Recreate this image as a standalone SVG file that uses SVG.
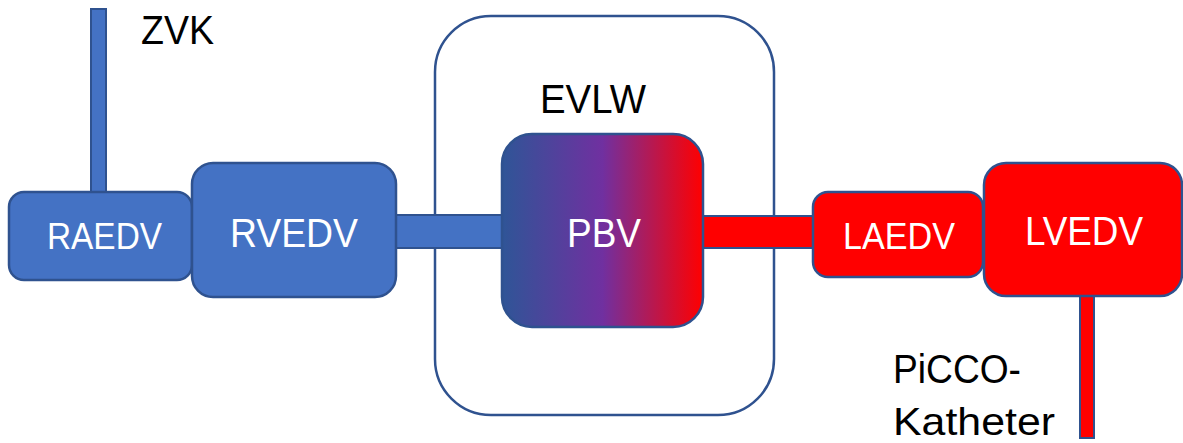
<svg xmlns="http://www.w3.org/2000/svg" width="1183" height="443" viewBox="0 0 1183 443">
  <style>
    .edge { stroke: #2F528F; stroke-width: 2; }
    .blue { fill: #4472C4; }
    .red { fill: #FF0000; }
    .box { stroke: #2F528F; stroke-width: 2.5; }
    .lbl { font-family: "Liberation Sans", Arial, sans-serif; }
    .in { fill: #FFFFFF; }
    .out { fill: #000000; }
  </style>
  <defs>
    <linearGradient id="mix" x1="0" y1="0" x2="1" y2="0">
      <stop offset="0" stop-color="#2F5597"/>
      <stop offset="0.5" stop-color="#7030A0"/>
      <stop offset="1" stop-color="#FF0000"/>
    </linearGradient>
  </defs>

  <!-- lung compartment -->
  <g id="evlw">
    <rect x="435" y="16" width="339" height="399" rx="56" fill="#FFFFFF" stroke="#2F528F" stroke-width="2.5"/>
    <text class="lbl out" x="540" y="113" font-size="40" textLength="106" lengthAdjust="spacingAndGlyphs">EVLW</text>
  </g>

  <!-- vessels and catheters -->
  <g id="connectors">
    <rect class="edge blue" x="91" y="9" width="15" height="184"/>
    <rect class="edge blue" x="390" y="215" width="116" height="33"/>
    <rect class="edge red" x="700" y="216" width="116" height="32"/>
    <rect class="edge red" x="1080" y="292" width="14" height="146"/>
  </g>

  <g id="raedv">
    <rect class="box blue" x="9" y="192" width="183" height="88" rx="15"/>
    <text class="lbl in" x="47" y="249" font-size="37" textLength="115" lengthAdjust="spacingAndGlyphs">RAEDV</text>
  </g>

  <g id="rvedv">
    <rect class="box blue" x="192" y="163" width="204" height="134" rx="21"/>
    <text class="lbl in" x="230" y="247" font-size="41" textLength="128" lengthAdjust="spacingAndGlyphs">RVEDV</text>
  </g>

  <g id="pbv">
    <rect x="502" y="134" width="201" height="193" rx="30" fill="url(#mix)" stroke="#2F528F" stroke-width="2.5"/>
    <text class="lbl in" x="567" y="247" font-size="41" textLength="74" lengthAdjust="spacingAndGlyphs">PBV</text>
  </g>

  <g id="laedv">
    <rect class="box red" x="813" y="192" width="170" height="85" rx="15"/>
    <text class="lbl in" x="843" y="249" font-size="37" textLength="112" lengthAdjust="spacingAndGlyphs">LAEDV</text>
  </g>

  <g id="lvedv">
    <rect class="box red" x="984" y="163" width="198" height="133" rx="22"/>
    <text class="lbl in" x="1025" y="245" font-size="40" textLength="118" lengthAdjust="spacingAndGlyphs">LVEDV</text>
  </g>

  <g id="zvk">
    <text class="lbl out" x="141" y="44" font-size="40" textLength="73" lengthAdjust="spacingAndGlyphs">ZVK</text>
  </g>

  <g id="picco">
    <text class="lbl out" x="893" y="383" font-size="40" textLength="128" lengthAdjust="spacingAndGlyphs">PiCCO-</text>
    <text class="lbl out" x="893" y="435" font-size="39" textLength="162" lengthAdjust="spacingAndGlyphs">Katheter</text>
  </g>
</svg>
